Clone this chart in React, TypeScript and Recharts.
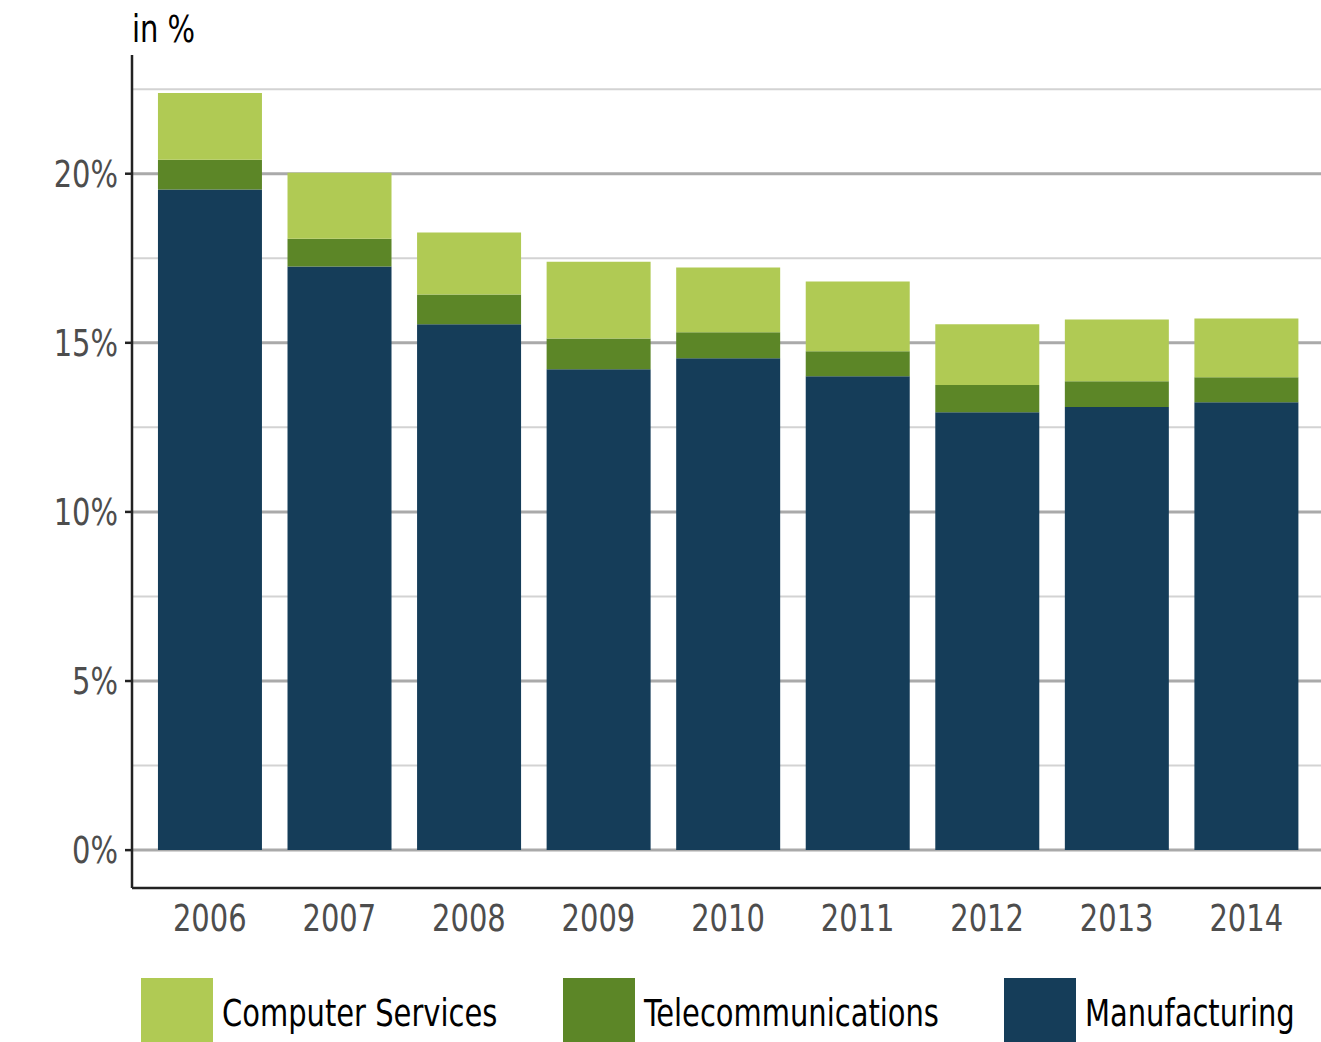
import React from 'react';
import { BarChart, Bar, XAxis, YAxis, CartesianGrid, Legend, Label } from 'recharts';

const years = ['2006', '2007', '2008', '2009', '2010', '2011', '2012', '2013', '2014'];
const manufacturing = [19.53, 17.26, 15.55, 14.22, 14.54, 14.01, 12.95, 13.1, 13.24];
const telecommunications = [0.88, 0.82, 0.88, 0.91, 0.77, 0.74, 0.8, 0.76, 0.74];
const computerServices = [1.98, 1.95, 1.83, 2.27, 1.92, 2.06, 1.8, 1.83, 1.74];

const yTicks = [0, 5, 10, 15, 20];
const minorGrid = [2.5, 7.5, 12.5, 17.5, 22.5];
const yDomain = [-1.12, 23.51];

const series = [
  { key: 'manufacturing', name: 'Manufacturing', color: '#153d59' },
  { key: 'telecommunications', name: 'Telecommunications', color: '#5c8627' },
  { key: 'computerServices', name: 'Computer Services', color: '#b0ca54' },
];
const legendOrder = ['computerServices', 'telecommunications', 'manufacturing'];

const data = years.map((year, i) => ({
  year,
  manufacturing: manufacturing[i],
  telecommunications: telecommunications[i],
  computerServices: computerServices[i],
}));

const FONT = "'DejaVu Sans Condensed', 'Liberation Sans', sans-serif";
const SX = 0.87;
const FS = 37;
const legendWidths = [422, 441, 300];

const renderLegend = () => (
  <div style={{ display: 'flex', paddingLeft: 141, height: 64, fontFamily: FONT }}>
    {legendOrder.map((k, i) => {
      const s = series.find((x) => x.key === k)!;
      return (
        <div key={k} style={{ display: 'flex', alignItems: 'center', width: legendWidths[i] }}>
          <div style={{ width: 72, height: 64, background: s.color, flex: 'none' }} />
          <span
            style={{
              marginLeft: 9,
              paddingTop: 6,
              fontSize: FS,
              color: '#000',
              whiteSpace: 'nowrap',
              display: 'inline-block',
              transform: `scaleX(${SX})`,
              transformOrigin: 'left center',
            }}
          >
            {s.name}
          </span>
        </div>
      );
    })}
  </div>
);

const XTick = (props: any) => {
  const { x, y, payload } = props;
  return (
    <g transform={`translate(${x},${y})`}>
      <text x={0} y={0} dy="0.71em" textAnchor="middle" fill="#4d4d4d" fontSize={FS} fontFamily={FONT} transform={`scale(${SX},1)`}>
        {payload.value}
      </text>
    </g>
  );
};

const YTick = (props: any) => {
  const { x, y, payload } = props;
  return (
    <g transform={`translate(${x},${y})`}>
      <text x={0} y={0} dy="0.355em" textAnchor="end" fill="#4d4d4d" fontSize={FS} fontFamily={FONT} transform={`scale(${SX},1)`}>
        {`${payload.value}%`}
      </text>
    </g>
  );
};

export default function App() {
  return (
    <div style={{ position: 'absolute', left: 0, top: 0, width: 1321, height: 1042, background: '#fff', fontFamily: FONT }}>
      <BarChart
        width={1321}
        height={1042}
        data={data}
        margin={{ top: 55, right: 0, left: 0, bottom: 0 }}
        barCategoryGap="10%"
      >
        <CartesianGrid vertical={false} horizontalValues={minorGrid} stroke="#d3d3d3" strokeWidth={2} />
        <CartesianGrid vertical={false} horizontalValues={yTicks} stroke="#aaaaaa" strokeWidth={3} />
        <XAxis
          dataKey="year"
          height={90}
          padding={{ left: 13, right: 10 }}
          tickLine={false}
          tickSize={0}
          tickMargin={17}
          axisLine={{ stroke: '#222', strokeWidth: 2.5 }}
          tick={<XTick />}
        />
        <YAxis
          width={132}
          domain={yDomain}
          ticks={yTicks}
          allowDataOverflow
          tickSize={7}
          tickMargin={7}
          tickLine={{ stroke: '#222', strokeWidth: 2.5 }}
          axisLine={{ stroke: '#222', strokeWidth: 2.5 }}
          tick={<YTick />}
        >
          <Label
            content={(props: any) => {
              const vb = props.viewBox || { x: 0, y: 55, width: 132 };
              const lx = vb.x + vb.width;
              const ly = vb.y - 13;
              return (
                <g transform={`translate(${lx},${ly})`}>
                  <text x={0} y={0} fontSize={FS} fill="#000" fontFamily={FONT} textAnchor="start" transform={`scale(${SX},1)`}>
                    in %
                  </text>
                </g>
              );
            }}
          />
        </YAxis>
        <Legend verticalAlign="bottom" content={renderLegend} wrapperStyle={{ left: 0, width: 1321 }} />
        {series.map((s) => (
          <Bar key={s.key} dataKey={s.key} name={s.name} stackId="a" fill={s.color} isAnimationActive={false} />
        ))}
      </BarChart>
    </div>
  );
}
